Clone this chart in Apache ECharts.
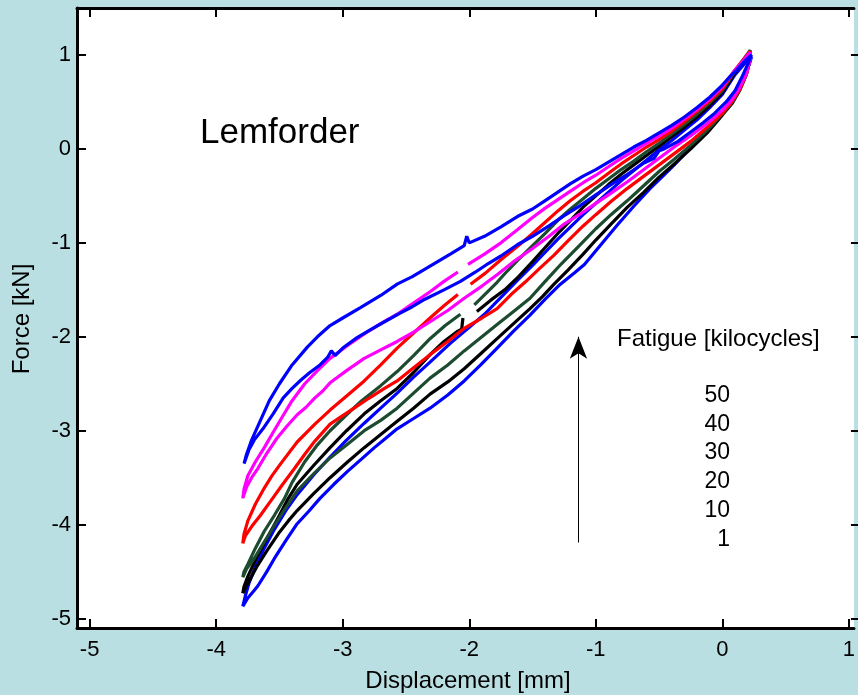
<!DOCTYPE html>
<html>
<head>
<meta charset="utf-8">
<script src="https://cdn.jsdelivr.net/npm/echarts@6/dist/echarts.min.js"></script>
<style>
html,body{margin:0;padding:0;background:#badfe2;}
#chart{width:858px;height:695px;}
</style>
</head>
<body>
<div id="chart"></div>
<script>
// ---- tick labels ----
var xTicks = [-5, -4, -3, -2, -1, 0, 1];
var yTicks = [-5, -4, -3, -2, -1, 0, 1];

// ---- fatigue legend labels (kilocycles), top to bottom ----
var fatigueLabels = ['50', '40', '30', '20', '10', '1'];

// ---- Loop 1 kc (blue) ----
var lower1 = [[-3.79,-4.87],[-3.75,-4.78],[-3.7,-4.7],[-3.67,-4.65],[-3.6,-4.5],[-3.54,-4.36],[-3.45,-4.17],[-3.36,-3.99],[-3.27,-3.86],[-3.18,-3.72],[-3.07,-3.57],[-2.96,-3.43],[-2.85,-3.3],[-2.75,-3.18],[-2.66,-3.08],[-2.57,-2.98],[-2.44,-2.87],[-2.31,-2.76],[-2.17,-2.62],[-2.04,-2.47],[-1.91,-2.3],[-1.78,-2.12],[-1.65,-1.94],[-1.52,-1.77],[-1.4,-1.6],[-1.28,-1.44],[-1.17,-1.32],[-1.09,-1.23],[-0.96,-1.02],[-0.83,-0.81],[-0.7,-0.61],[-0.57,-0.42],[-0.47,-0.29],[-0.38,-0.17],[-0.26,0.0],[-0.14,0.17],[-0.03,0.33],[0.06,0.5],[0.13,0.64],[0.18,0.78],[0.22,0.93],[0.23,0.98]];
var upper1 = [[0.23,0.98],[0.17,0.9],[0.1,0.79],[0.0,0.58],[-0.1,0.44],[-0.2,0.31],[-0.3,0.2],[-0.4,0.09],[-0.5,-0.01],[-0.6,-0.12],[-0.7,-0.23],[-0.8,-0.34],[-0.9,-0.46],[-1.0,-0.58],[-1.1,-0.7],[-1.2,-0.83],[-1.3,-0.96],[-1.4,-1.1],[-1.5,-1.24],[-1.62,-1.4],[-1.75,-1.58],[-1.88,-1.76],[-2.0,-1.9],[-2.15,-2.07],[-2.31,-2.27],[-2.44,-2.43],[-2.57,-2.6],[-2.7,-2.76],[-2.83,-2.92],[-2.97,-3.1],[-3.1,-3.28],[-3.23,-3.47],[-3.36,-3.68],[-3.45,-3.85],[-3.54,-4.05],[-3.62,-4.25],[-3.69,-4.45],[-3.74,-4.62],[-3.77,-4.76],[-3.79,-4.87]];

// ---- Loop 10 kc (black) ----
var lower10 = [[-3.79,-4.73],[-3.74,-4.6],[-3.68,-4.45],[-3.6,-4.28],[-3.5,-4.08],[-3.43,-3.96],[-3.36,-3.85],[-3.23,-3.67],[-3.1,-3.5],[-2.96,-3.33],[-2.83,-3.18],[-2.7,-3.04],[-2.57,-2.9],[-2.44,-2.76],[-2.31,-2.61],[-2.17,-2.48],[-2.04,-2.34],[-1.91,-2.18],[-1.78,-2.02],[-1.65,-1.86],[-1.52,-1.7],[-1.42,-1.57],[-1.33,-1.44],[-1.22,-1.29],[-1.1,-1.12],[-1.0,-0.97],[-0.88,-0.8],[-0.75,-0.62],[-0.62,-0.46],[-0.5,-0.3],[-0.38,-0.16],[-0.25,0.0],[-0.12,0.17],[0.0,0.36],[0.08,0.49],[0.14,0.63],[0.19,0.79],[0.22,0.95],[0.22,1.03]];
var upper10 = [[0.22,1.03],[0.16,0.92],[0.1,0.81],[0.0,0.6],[-0.1,0.46],[-0.2,0.34],[-0.3,0.23],[-0.4,0.13],[-0.5,0.03],[-0.6,-0.07],[-0.7,-0.17],[-0.8,-0.27],[-0.9,-0.38],[-1.0,-0.5],[-1.1,-0.62],[-1.2,-0.76],[-1.3,-0.9],[-1.4,-1.05],[-1.5,-1.2],[-1.61,-1.36],[-1.72,-1.5],[-1.83,-1.61],[-1.94,-1.73],'-',[-2.05,-1.8],[-2.06,-1.92],[-2.09,-1.94],[-2.2,-2.05],[-2.31,-2.19],[-2.44,-2.38],[-2.57,-2.55],[-2.7,-2.68],[-2.83,-2.82],[-2.97,-3.0],[-3.1,-3.18],[-3.23,-3.37],[-3.36,-3.57],[-3.43,-3.72],[-3.5,-3.9],[-3.6,-4.15],[-3.68,-4.35],[-3.75,-4.55],[-3.78,-4.66],[-3.79,-4.73]];

// ---- Loop 20 kc (dark green) ----
var lower20 = [[-3.79,-4.56],[-3.76,-4.47],[-3.7,-4.36],[-3.65,-4.25],[-3.55,-4.03],[-3.45,-3.82],[-3.36,-3.64],[-3.23,-3.46],[-3.1,-3.29],[-2.96,-3.14],[-2.83,-3.0],[-2.7,-2.89],[-2.57,-2.76],[-2.44,-2.6],[-2.31,-2.44],[-2.17,-2.3],[-2.04,-2.15],[-1.91,-2.01],[-1.78,-1.87],[-1.65,-1.73],[-1.52,-1.59],[-1.4,-1.41],[-1.27,-1.22],[-1.13,-1.03],[-1.0,-0.85],[-0.88,-0.7],[-0.75,-0.55],[-0.62,-0.39],[-0.5,-0.24],[-0.38,-0.11],[-0.25,0.04],[-0.12,0.2],[0.0,0.37],[0.08,0.5],[0.14,0.64],[0.19,0.8],[0.22,0.96],[0.22,1.05]];
var upper20 = [[0.22,1.05],[0.16,0.94],[0.1,0.83],[0.0,0.62],[-0.1,0.49],[-0.2,0.37],[-0.3,0.26],[-0.4,0.16],[-0.5,0.06],[-0.6,-0.03],[-0.7,-0.13],[-0.8,-0.22],[-0.9,-0.32],[-1.0,-0.42],[-1.1,-0.53],[-1.2,-0.64],[-1.3,-0.76],[-1.4,-0.9],[-1.5,-1.03],[-1.62,-1.19],[-1.7,-1.3],[-1.78,-1.42],[-1.87,-1.54],[-1.96,-1.66],'-',[-2.07,-1.76],[-2.19,-1.88],[-2.31,-2.02],[-2.44,-2.2],[-2.57,-2.37],[-2.7,-2.52],[-2.85,-2.68],[-2.97,-2.83],[-3.1,-3.0],[-3.2,-3.15],[-3.3,-3.33],[-3.4,-3.55],[-3.46,-3.72],[-3.54,-3.9],[-3.62,-4.07],[-3.69,-4.25],[-3.75,-4.42],[-3.78,-4.5],[-3.79,-4.56]];

// ---- Loop 30 kc (red) ----
var lower30 = [[-3.79,-4.2],[-3.77,-4.12],[-3.72,-4.02],[-3.65,-3.9],[-3.57,-3.75],[-3.48,-3.58],[-3.38,-3.4],[-3.3,-3.25],[-3.22,-3.11],[-3.16,-3.02],[-3.1,-2.93],[-3.0,-2.84],[-2.91,-2.76],[-2.8,-2.66],[-2.67,-2.55],[-2.57,-2.47],[-2.44,-2.33],[-2.31,-2.19],[-2.17,-2.05],[-2.04,-1.91],[-1.9,-1.8],[-1.78,-1.7],[-1.67,-1.55],[-1.56,-1.42],[-1.45,-1.28],[-1.33,-1.13],[-1.22,-0.98],[-1.1,-0.82],[-1.0,-0.7],[-0.88,-0.56],[-0.75,-0.42],[-0.62,-0.29],[-0.5,-0.17],[-0.38,-0.05],[-0.25,0.08],[-0.12,0.23],[0.0,0.38],[0.08,0.51],[0.14,0.64],[0.19,0.8],[0.22,0.96],[0.22,1.04]];
var upper30 = [[0.22,1.04],[0.16,0.94],[0.1,0.84],[0.0,0.64],[-0.1,0.51],[-0.2,0.4],[-0.3,0.29],[-0.4,0.19],[-0.5,0.1],[-0.6,0.02],[-0.7,-0.07],[-0.8,-0.16],[-0.9,-0.26],[-1.0,-0.36],[-1.1,-0.45],[-1.2,-0.55],[-1.3,-0.66],[-1.4,-0.78],[-1.5,-0.9],[-1.62,-1.04],[-1.75,-1.18],[-1.87,-1.32],[-1.99,-1.44],'-',[-2.09,-1.55],[-2.2,-1.67],[-2.31,-1.8],[-2.44,-1.96],[-2.57,-2.12],[-2.7,-2.3],[-2.83,-2.47],[-2.96,-2.62],[-3.1,-2.78],[-3.22,-2.93],[-3.36,-3.12],[-3.49,-3.35],[-3.56,-3.48],[-3.62,-3.61],[-3.69,-3.78],[-3.75,-3.96],[-3.78,-4.1],[-3.79,-4.2]];

// ---- Loop 40 kc (magenta) ----
var lower40 = [[-3.79,-3.72],[-3.76,-3.6],[-3.72,-3.5],[-3.67,-3.4],[-3.6,-3.24],[-3.52,-3.08],[-3.44,-2.95],[-3.36,-2.83],[-3.29,-2.75],[-3.22,-2.65],[-3.16,-2.58],[-3.1,-2.49],[-2.97,-2.36],[-2.83,-2.23],[-2.7,-2.14],[-2.57,-2.05],[-2.44,-1.95],[-2.31,-1.84],[-2.17,-1.72],[-2.04,-1.59],[-1.9,-1.46],[-1.78,-1.34],[-1.65,-1.2],[-1.5,-1.06],[-1.37,-0.93],[-1.25,-0.8],[-1.12,-0.69],[-1.0,-0.58],[-0.88,-0.47],[-0.75,-0.35],[-0.62,-0.22],[-0.5,-0.1],[-0.38,0.02],[-0.25,0.14],[-0.12,0.27],[0.0,0.41],[0.08,0.53],[0.14,0.66],[0.19,0.8],[0.22,0.95],[0.22,1.03]];
var upper40 = [[0.22,1.03],[0.16,0.93],[0.1,0.84],[0.0,0.66],[-0.1,0.53],[-0.2,0.42],[-0.3,0.32],[-0.4,0.22],[-0.5,0.14],[-0.6,0.06],[-0.7,-0.02],[-0.8,-0.1],[-0.9,-0.19],[-1.0,-0.28],[-1.1,-0.36],[-1.2,-0.45],[-1.3,-0.54],[-1.4,-0.63],[-1.5,-0.73],[-1.62,-0.86],[-1.75,-1.0],[-1.88,-1.12],[-2.01,-1.23],'-',[-2.09,-1.31],[-2.2,-1.41],[-2.31,-1.52],[-2.45,-1.65],[-2.57,-1.76],[-2.7,-1.86],[-2.83,-1.97],[-2.97,-2.1],[-3.1,-2.23],[-3.2,-2.36],[-3.3,-2.5],[-3.4,-2.68],[-3.49,-2.88],[-3.56,-3.04],[-3.62,-3.18],[-3.69,-3.33],[-3.75,-3.48],[-3.78,-3.62],[-3.79,-3.72]];

// ---- Loop 50 kc (blue) ----
var lower50 = [[-3.78,-3.35],[-3.74,-3.2],[-3.7,-3.1],[-3.62,-2.96],[-3.55,-2.82],[-3.47,-2.65],[-3.4,-2.55],[-3.33,-2.46],[-3.26,-2.38],[-3.18,-2.3],[-3.12,-2.22],[-3.09,-2.15],[-3.06,-2.2],[-3.0,-2.12],[-2.9,-2.02],[-2.8,-1.94],[-2.67,-1.84],[-2.55,-1.75],[-2.45,-1.68],[-2.35,-1.6],[-2.2,-1.5],[-2.07,-1.41],[-1.95,-1.31],[-1.85,-1.22],[-1.75,-1.14],[-1.62,-1.02],[-1.5,-0.93],[-1.37,-0.82],[-1.25,-0.71],[-1.12,-0.6],[-1.0,-0.49],[-0.88,-0.38],[-0.75,-0.27],[-0.62,-0.15],[-0.54,-0.1],[-0.5,-0.02],[-0.46,0.0],[-0.35,0.08],[-0.25,0.18],[-0.15,0.28],[-0.06,0.38],[0.03,0.5],[0.1,0.62],[0.16,0.78],[0.2,0.9],[0.23,1.0]];
var upper50 = [[0.23,1.0],[0.18,0.94],[0.12,0.85],[0.06,0.77],[0.0,0.68],[-0.1,0.55],[-0.2,0.44],[-0.3,0.34],[-0.4,0.25],[-0.5,0.17],[-0.6,0.09],[-0.7,0.02],[-0.8,-0.06],[-0.9,-0.14],[-1.0,-0.22],[-1.1,-0.29],[-1.2,-0.37],[-1.3,-0.46],[-1.4,-0.55],[-1.5,-0.64],[-1.62,-0.72],[-1.75,-0.83],[-1.88,-0.93],[-2.0,-1.0],[-2.02,-0.93],[-2.04,-1.03],[-2.15,-1.12],[-2.3,-1.24],[-2.45,-1.36],[-2.57,-1.44],[-2.7,-1.56],[-2.86,-1.69],[-3.0,-1.8],[-3.1,-1.88],[-3.2,-2.0],[-3.28,-2.11],[-3.4,-2.3],[-3.5,-2.5],[-3.58,-2.68],[-3.66,-2.92],[-3.72,-3.1],[-3.76,-3.25],[-3.78,-3.35]];

// ---- arrow annotation (data coordinates) ----
var arrowX = -1.137;
var arrowFromY = -4.19;
var arrowToY = -2.0;

var loops = [
  {name: '1', color: '#0000ff', lower: lower1, upper: upper1},
  {name: '10', color: '#000000', lower: lower10, upper: upper10},
  {name: '20', color: '#1d4b30', lower: lower20, upper: upper20},
  {name: '30', color: '#ff0000', lower: lower30, upper: upper30},
  {name: '40', color: '#ff00ff', lower: lower40, upper: upper40},
  {name: '50', color: '#0000ff', lower: lower50, upper: upper50}
];

var FONT = '"Liberation Sans", Arial, Helvetica, sans-serif';

var series = loops.map(function (l) {
  return {
    type: 'line',
    name: l.name,
    data: l.lower.concat(l.upper),
    showSymbol: false,
    symbol: 'none',
    connectNulls: false,
    lineStyle: {color: l.color, width: 3.2},
    itemStyle: {color: l.color},
    silent: true,
    z: 3
  };
});

series.push({
  type: 'line',
  name: 'arrow',
  data: [],
  silent: true,
  markLine: {
    silent: true,
    symbol: ['none', 'arrow'],
    symbolSize: [13, 22],
    label: {show: false},
    lineStyle: {color: '#000', width: 1, type: 'solid'},
    emphasis: {disabled: true},
    data: [[{coord: [arrowX, arrowFromY]}, {coord: [arrowX, arrowToY]}]]
  }
});

var axisCommon = {
  type: 'value',
  splitLine: {show: false},
  axisLine: {show: true, onZero: false, lineStyle: {color: '#000', width: 3}},
  axisTick: {show: true, inside: true, length: 9, lineStyle: {color: '#000', width: 2}}
};

var option = {
  animation: false,
  backgroundColor: '#badfe2',
  grid: {left: 77, top: 8, width: 781, height: 620, show: true, backgroundColor: '#ffffff', borderWidth: 0},
  xAxis: [
    Object.assign({}, axisCommon, {
      position: 'bottom', min: -5.1, max: 1.04,
      axisTick: Object.assign({}, axisCommon.axisTick, {customValues: xTicks}),
      axisLabel: {customValues: xTicks, color: '#000', fontSize: 22, fontFamily: FONT, margin: 11,
        formatter: function (v) { return String(v); }}
    }),
    Object.assign({}, axisCommon, {
      position: 'top', min: -5.1, max: 1.04,
      axisTick: Object.assign({}, axisCommon.axisTick, {customValues: xTicks}),
      axisLabel: {show: false, customValues: xTicks}
    })
  ],
  yAxis: [
    Object.assign({}, axisCommon, {
      position: 'left', min: -5.1, max: 1.5,
      axisTick: Object.assign({}, axisCommon.axisTick, {customValues: yTicks}),
      axisLabel: {customValues: yTicks, color: '#000', fontSize: 22, fontFamily: FONT, margin: 6,
        formatter: function (v) { return String(v); }}
    }),
    Object.assign({}, axisCommon, {
      position: 'right', offset: 6, min: -5.1, max: 1.5,
      axisTick: Object.assign({}, axisCommon.axisTick, {customValues: yTicks}),
      axisLabel: {show: false, customValues: yTicks}
    })
  ],
  series: series,
  graphic: [
    {type: 'text', x: 22, y: 319, rotation: Math.PI / 2, z: 10,
      style: {text: 'Force [kN]', x: 0, y: 0, align: 'center', verticalAlign: 'middle', font: '24px ' + FONT, fill: '#000'}},
    {type: 'text', x: 468, y: 681, z: 10,
      style: {text: 'Displacement [mm]', x: 0, y: 0, align: 'center', verticalAlign: 'middle', font: '24px ' + FONT, fill: '#000'}},
    {type: 'text', x: 200, y: 133, z: 10,
      style: {text: 'Lemforder', x: 0, y: 0, align: 'left', verticalAlign: 'middle', font: '35px ' + FONT, fill: '#000'}},
    {type: 'text', x: 617, y: 339, z: 10,
      style: {text: 'Fatigue [kilocycles]', x: 0, y: 0, align: 'left', verticalAlign: 'middle', font: '24px ' + FONT, fill: '#000'}},
    {type: 'text', x: 730, y: 381, z: 10,
      style: {text: fatigueLabels.join('\n'), x: 0, y: 0, align: 'right', verticalAlign: 'top', lineHeight: 28.8, font: '23px ' + FONT, fill: '#000'}}
  ]
};

var chart = echarts.init(document.getElementById('chart'), null, {renderer: 'canvas'});
chart.setOption(option);
</script>
</body>
</html>
